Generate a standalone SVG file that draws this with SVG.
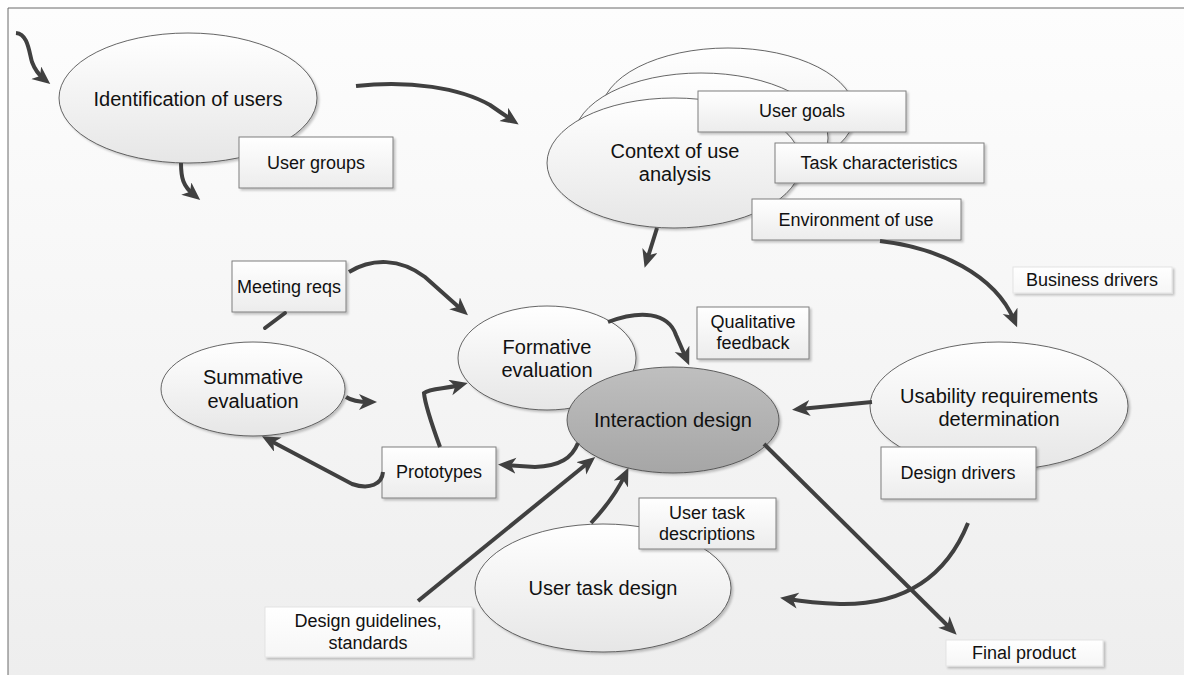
<svg xmlns="http://www.w3.org/2000/svg" width="1184" height="675" viewBox="0 0 1184 675">
<defs>
  <linearGradient id="bg" x1="0" y1="0" x2="0" y2="1">
    <stop offset="0" stop-color="#fdfdfd"/>
    <stop offset="1" stop-color="#eeeeee"/>
  </linearGradient>
  <linearGradient id="ell" x1="0" y1="0" x2="0" y2="1">
    <stop offset="0" stop-color="#ffffff"/>
    <stop offset="1" stop-color="#e6e6e6"/>
  </linearGradient>
  <linearGradient id="ellDark" x1="0" y1="0" x2="0" y2="1">
    <stop offset="0" stop-color="#bfbfbf"/>
    <stop offset="1" stop-color="#a6a6a6"/>
  </linearGradient>
  <linearGradient id="box" x1="0" y1="0" x2="0" y2="1">
    <stop offset="0" stop-color="#ffffff"/>
    <stop offset="1" stop-color="#ececec"/>
  </linearGradient>
  <linearGradient id="boxLight" x1="0" y1="0" x2="0" y2="1">
    <stop offset="0" stop-color="#ffffff"/>
    <stop offset="1" stop-color="#f6f6f6"/>
  </linearGradient>
  <filter id="sh" x="-10%" y="-10%" width="130%" height="130%">
    <feDropShadow dx="2" dy="2" stdDeviation="1.2" flood-color="#000" flood-opacity="0.22"/>
  </filter>
  <marker id="ah" markerUnits="userSpaceOnUse" markerWidth="19" markerHeight="17" refX="10" refY="8" orient="auto" viewBox="0 0 19 17">
    <path d="M0,0 L18,8 L0,16 L5,8 z" fill="#404040"/>
  </marker>
  <style>
    .e { fill: url(#ell); stroke: #404040; stroke-width: 0.8; filter: url(#sh); }
    .ed { fill: url(#ellDark); stroke: #404040; stroke-width: 0.8; filter: url(#sh); }
    .b { fill: url(#box); stroke: #7f7f7f; stroke-width: 1; filter: url(#sh); }
    .bl { fill: url(#boxLight); stroke: #e4e4e4; stroke-width: 1; filter: url(#sh); }
    .t { font-family: "Liberation Sans", Arial, sans-serif; font-size: 20px; fill: #111; text-anchor: middle; }
    .s { font-family: "Liberation Sans", Arial, sans-serif; font-size: 18px; fill: #111; text-anchor: middle; }
    .c { fill: none; stroke: #404040; stroke-width: 4; stroke-linecap: round; }
    .ca { fill: none; stroke: #404040; stroke-width: 4; stroke-linecap: butt; marker-end: url(#ah); }
  </style>
</defs>

<rect x="0" y="0" width="1184" height="675" fill="#ffffff"/>
<rect x="8" y="8" width="1176" height="667" fill="url(#bg)"/>
<path d="M8,675 L8,8 L1184,8" fill="none" stroke="#6a6a6a" stroke-width="1"/>

<g id="identification">
  <ellipse class="e" cx="188" cy="98" rx="129" ry="65"/>
  <text class="t" x="188" y="106">Identification of users</text>
</g>
<g id="user-groups">
  <rect class="b" x="239" y="137" width="154" height="51"/>
  <text class="s" x="316" y="169">User groups</text>
</g>

<g id="context">
  <ellipse class="e" cx="728" cy="113" rx="127" ry="65"/>
  <ellipse class="e" cx="701" cy="138" rx="127" ry="65"/>
  <ellipse class="e" cx="674" cy="163" rx="127" ry="65"/>
  <text class="t" x="675" y="158">Context of use</text>
  <text class="t" x="675" y="181">analysis</text>
</g>
<g id="user-goals">
  <rect class="b" x="698" y="91" width="208" height="41"/>
  <text class="s" x="802" y="117">User goals</text>
</g>
<g id="task-characteristics">
  <rect class="b" x="775" y="143" width="209" height="40"/>
  <text class="s" x="879" y="169">Task characteristics</text>
</g>
<g id="environment">
  <rect class="b" x="752" y="199" width="209" height="41"/>
  <text class="s" x="856" y="226">Environment of use</text>
</g>
<g id="business-drivers">
  <rect class="bl" x="1013" y="267" width="159" height="26"/>
  <text class="s" x="1092" y="286">Business drivers</text>
</g>

<g id="meeting-reqs">
  <rect class="b" x="232" y="261" width="114" height="51"/>
  <text class="s" x="289" y="293">Meeting reqs</text>
</g>

<g id="summative">
  <ellipse class="e" cx="253" cy="389" rx="92" ry="47"/>
  <text class="t" x="253" y="384">Summative</text>
  <text class="t" x="253" y="408">evaluation</text>
</g>

<g id="formative">
  <ellipse class="e" cx="547" cy="358" rx="89" ry="52"/>
  <text class="t" x="547" y="354">Formative</text>
  <text class="t" x="547" y="377">evaluation</text>
</g>

<g id="qualitative-feedback">
  <rect class="b" x="697" y="307" width="112" height="52"/>
  <text class="s" x="753" y="328">Qualitative</text>
  <text class="s" x="753" y="349">feedback</text>
</g>

<g id="interaction-design">
  <ellipse class="ed" cx="673" cy="420" rx="106" ry="53"/>
  <text class="t" x="673" y="427">Interaction design</text>
</g>

<g id="usability">
  <ellipse class="e" cx="999" cy="406" rx="129" ry="64"/>
  <text class="t" x="999" y="403">Usability requirements</text>
  <text class="t" x="999" y="426">determination</text>
</g>
<g id="design-drivers">
  <rect class="b" x="881" y="447" width="155" height="52"/>
  <text class="s" x="958" y="479">Design drivers</text>
</g>

<g id="prototypes">
  <rect class="b" x="382" y="447" width="114" height="51"/>
  <text class="s" x="439" y="478">Prototypes</text>
</g>

<g id="user-task-design">
  <ellipse class="e" cx="603" cy="588" rx="128" ry="64"/>
  <text class="t" x="603" y="595">User task design</text>
</g>
<g id="user-task-descriptions">
  <rect class="b" x="639" y="498" width="137" height="51"/>
  <text class="s" x="707" y="519">User task</text>
  <text class="s" x="707" y="540">descriptions</text>
</g>

<g id="design-guidelines">
  <rect class="bl" x="265" y="607" width="207" height="50"/>
  <text class="s" x="368" y="627">Design guidelines,</text>
  <text class="s" x="368" y="649">standards</text>
</g>

<g id="final-product">
  <rect class="bl" x="946" y="640" width="157" height="26"/>
  <text class="s" x="1024" y="659">Final product</text>
</g>

<g id="connectors">
  <path class="ca" d="M16,33 C28,34 29,52 32,62 C35,70 39,75 44,79"/>
  <path class="ca" d="M181,163 C181,178 183,186 194,195"/>
  <path class="ca" d="M356,86 C410,80 460,88 490,105 C500,112 506,116 512,120"/>
  <path class="ca" d="M657,228 L647,260"/>
  <path class="ca" d="M880,241 C940,248 995,275 1014,320"/>
  <path class="ca" d="M872,402 L800,409"/>
  <path class="ca" d="M608,322 C640,310 668,312 676,335 L686,358"/>
  <path class="ca" d="M349,272 C372,258 400,258 425,277 L462,310"/>
  <path class="c" d="M265,328 L285,313"/>
  <path class="ca" d="M346,397 C352,401 358,402 369,402"/>
  <path class="ca" d="M440,447 C432,425 425,405 424,393 C430,388 445,389 460,385"/>
  <path class="ca" d="M383,472 C382,484 370,490 352,484 L269,440"/>
  <path class="ca" d="M578,443 C572,458 560,466 535,467 L506,465"/>
  <path class="ca" d="M418,601 L589,462"/>
  <path class="ca" d="M591,523 C605,508 617,492 625,475"/>
  <path class="ca" d="M764,444 L951,629"/>
  <path class="ca" d="M968,523 C945,580 900,605 840,604 C815,603 800,601 788,599"/>
</g>
</svg>
